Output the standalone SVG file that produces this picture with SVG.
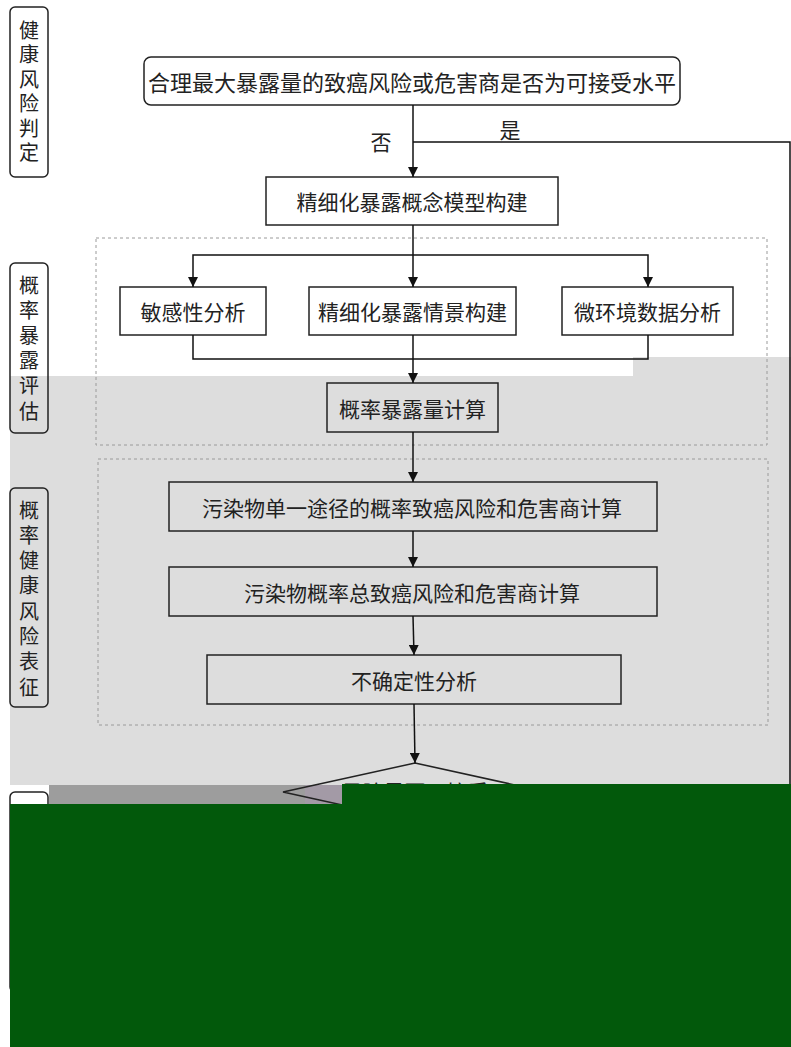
<svg xmlns="http://www.w3.org/2000/svg" width="791" height="1047" viewBox="0 0 791 1047">
<style>
.t{font-family:"Noto Sans CJK SC","Noto Sans",sans-serif;font-size:21px;fill:#222;text-anchor:middle;dominant-baseline:central}
.lt{font-family:"Noto Sans CJK SC","Noto Sans",sans-serif;font-size:20px;fill:#222;writing-mode:vertical-rl;text-anchor:start}
.box{fill:none;stroke:#222;stroke-width:1.5}
.dash{fill:none;stroke:#9a9a9a;stroke-width:1;stroke-dasharray:3 3}
.ln{fill:none;stroke:#111;stroke-width:1.5}
</style>
<defs>
<marker id="ah" viewBox="0 0 10 10" refX="10" refY="5" markerWidth="10" markerHeight="10" markerUnits="userSpaceOnUse" orient="auto">
<path d="M0,0 L10,5 L0,10 Z" fill="#111"/>
</marker>
</defs>
<rect x="0" y="0" width="791" height="1047" fill="#ffffff"/>
<path d="M10,376 H633 V357 H791 V785 H10 Z" fill="#dddddd"/>
<rect x="49" y="785" width="256" height="19" fill="#9d9d9d"/>
<rect x="305" y="785" width="37" height="19" fill="#a39aa6"/>

<g id="groups">
<rect class="dash" x="96" y="238" width="671" height="207"/>
<rect class="dash" x="98" y="459" width="670" height="266"/>
</g>

<g id="label1">
<rect class="box" x="10" y="7" width="38" height="170" rx="5"/>
<text class="lt" x="29" y="20" style="letter-spacing:4.5px">健康风险判定</text>
</g>
<g id="label2">
<rect class="box" x="10" y="263" width="38" height="170" rx="5"/>
<text class="lt" x="29" y="275" style="letter-spacing:5.2px">概率暴露评估</text>
</g>
<g id="label3">
<rect class="box" x="10" y="488" width="38" height="219" rx="5"/>
<text class="lt" x="29" y="500" style="letter-spacing:5.3px">概率健康风险表征</text>
</g>
<g id="label4">
<rect class="box" x="10" y="792" width="38" height="200" rx="5"/>
</g>

<g id="n_top">
<rect class="box" x="144" y="57" width="536" height="48" rx="7" fill="#fff"/>
<text class="t" x="412" y="81" style="font-size:22px">合理最大暴露量的致癌风险或危害商是否为可接受水平</text>
</g>
<g id="n_model">
<rect class="box" x="266" y="177" width="292" height="48"/>
<text class="t" x="412" y="201">精细化暴露概念模型构建</text>
</g>
<g id="n_sens">
<rect class="box" x="120" y="287" width="146" height="48"/>
<text class="t" x="193" y="311">敏感性分析</text>
</g>
<g id="n_scen">
<rect class="box" x="309" y="287" width="207" height="48"/>
<text class="t" x="412.5" y="311">精细化暴露情景构建</text>
</g>
<g id="n_micro">
<rect class="box" x="562" y="287" width="171" height="48"/>
<text class="t" x="647.5" y="311">微环境数据分析</text>
</g>
<g id="n_prob">
<rect class="box" x="327" y="383" width="171" height="49"/>
<text class="t" x="412.5" y="408">概率暴露量计算</text>
</g>
<g id="n_single">
<rect class="box" x="169" y="482" width="488" height="49"/>
<text class="t" x="412" y="507">污染物单一途径的概率致癌风险和危害商计算</text>
</g>
<g id="n_total">
<rect class="box" x="169" y="567" width="488" height="49"/>
<text class="t" x="412" y="592">污染物概率总致癌风险和危害商计算</text>
</g>
<g id="n_unc">
<rect class="box" x="207" y="655" width="414" height="49"/>
<text class="t" x="414" y="680">不确定性分析</text>
</g>
<g id="n_decide">
<path class="box" d="M415,763 L547,792 L415,821 L283,792 Z"/>
<text class="t" x="415" y="791">风险是否可接受</text>
</g>

<g id="connectors">
<path class="ln" d="M413,105 V177" marker-end="url(#ah)"/>
<path class="ln" d="M413,142 H790 V785"/>
<text class="t" x="381" y="141">否</text>
<text class="t" x="510" y="129">是</text>
<path class="ln" d="M413,225 V287" marker-end="url(#ah)"/>
<path class="ln" d="M413,255 H193 V287" marker-end="url(#ah)"/>
<path class="ln" d="M413,255 H648 V287" marker-end="url(#ah)"/>
<path class="ln" d="M193,335 V359 H648 V335"/>
<path class="ln" d="M413,335 V383" marker-end="url(#ah)"/>
<path class="ln" d="M413,432 V482" marker-end="url(#ah)"/>
<path class="ln" d="M413,531 V567" marker-end="url(#ah)"/>
<path class="ln" d="M413,616 L414,655" marker-end="url(#ah)"/>
<path class="ln" d="M414,704 L415,763" marker-end="url(#ah)"/>
</g>

<path d="M342,784 H791 V1047 H10 V804 H342 Z" fill="#02590b"/>
</svg>
